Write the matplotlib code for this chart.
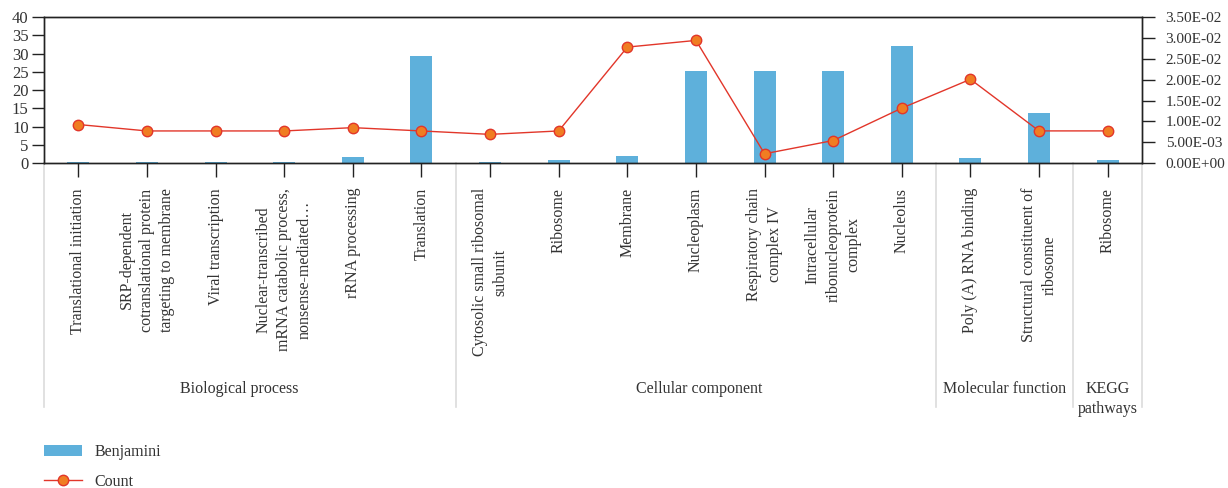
import matplotlib
matplotlib.use("Agg")
import matplotlib.pyplot as plt
from matplotlib.ticker import FuncFormatter, MultipleLocator
from matplotlib.lines import Line2D
from matplotlib.patches import Patch
import matplotlib.transforms as mtransforms

plt.rcParams['font.family'] = ['Liberation Serif', 'DejaVu Serif']

categories = [
    "Translational initiation",
    "SRP-dependent\ncotranslational protein\ntargeting to membrane",
    "Viral transcription",
    "Nuclear-transcribed\nmRNA catabolic process,\nnonsense-mediated…",
    "rRNA processing",
    "Translation",
    "Cytosolic small ribosomal\nsubunit",
    "Ribosome",
    "Membrane",
    "Nucleoplasm",
    "Respiratory chain\ncomplex IV",
    "Intracellular\nribonucleoprotein\ncomplex",
    "Nucleolus",
    "Poly (A) RNA binding",
    "Structural constituent of\nribosome",
    "Ribosome",
]
groups = ["Biological process", "Cellular component", "Molecular function", "KEGG\npathways"]
group_sizes = [6, 7, 2, 1]

benjamini = [0.3, 0.3, 0.3, 0.3, 1.8, 29.4, 0.3, 0.9, 2.1, 25.2, 25.2, 25.2, 32.2, 1.5, 13.7, 0.9]
count = [0.00928, 0.00774, 0.00774, 0.00774, 0.00853, 0.00774, 0.00692, 0.00774,
         0.0278, 0.0294, 0.00228, 0.00545, 0.0132, 0.0201, 0.00775, 0.00775]

bar_color = "#5eb0db"
line_color = "#e2362a"
marker_face = "#f07d22"
text_color = "#333333"

fig = plt.figure(figsize=(12.28, 4.88), dpi=100)
ax = fig.add_axes([44/1228, 1-163.3/488, (1142-44)/1228, (163.3-17)/488])
ax2 = ax.twinx()

x = list(range(len(categories)))
ax.bar(x, benjamini, width=0.32, color=bar_color, zorder=1)
ax2.plot(x, count, color=line_color, lw=1.0, marker='o', markersize=7.5,
         markerfacecolor=marker_face, markeredgecolor=line_color, markeredgewidth=1.0, zorder=3)
ax.set_zorder(ax2.get_zorder() - 1)
ax.patch.set_visible(False)

ax.set_xlim(-0.5, len(categories) - 0.5)
ax.set_ylim(0, 40)
ax2.set_ylim(0, 0.035)
ax.yaxis.set_major_locator(MultipleLocator(5))
ax2.yaxis.set_major_locator(MultipleLocator(0.005))

def sci(v, pos):
    return "%.2E" % v
ax2.yaxis.set_major_formatter(FuncFormatter(sci))

for a in (ax, ax2):
    for sp in a.spines.values():
        sp.set_color("#222222")
        sp.set_linewidth(1.0)
ax.tick_params(axis='y', direction='out', length=9, width=1.0, labelsize=12, pad=2, colors="#222222")
ax2.tick_params(axis='y', direction='out', length=9, width=1.0, labelsize=11, pad=8, colors="#222222")
ax.set_xticks(x)
ax.set_xticklabels([])
ax.tick_params(axis='x', direction='out', length=10, width=1.0, colors="#222222")
for lab in ax.get_yticklabels() + ax2.get_yticklabels():
    lab.set_color(text_color)

# category labels
trans = mtransforms.blended_transform_factory(ax.transData, fig.transFigure)
for i, c in enumerate(categories):
    ax.text(i, 1 - 188/488, c, transform=trans, rotation=90, ha='center', va='top',
            multialignment='center', fontsize=11.5, color=text_color, clip_on=False,
            linespacing=1.38)

# group separators and labels
bounds = [-0.5]
for s in group_sizes:
    bounds.append(bounds[-1] + s)
for b in bounds:
    ax.add_artist(Line2D([b, b], [1 - 163.3/488, 1 - 407/488], transform=trans,
                         color="#dcdcdc", lw=1.2, clip_on=False, zorder=0))
group_x = [2.35, 9.05, 13.5, 15.0]
for gx, g in zip(group_x, groups):
    ax.text(gx, 1 - 381/488, g, transform=trans, ha='center', va='top',
            multialignment='center', fontsize=11.5, color=text_color, clip_on=False,
            linespacing=1.35)

handles = [Patch(facecolor=bar_color, edgecolor='none', label="Benjamini"),
           Line2D([], [], color=line_color, lw=1.0, marker='o', markersize=7.5,
                  markerfacecolor=marker_face, markeredgecolor=line_color, label="Count")]
fig.legend(handles=handles, loc='upper left', bbox_to_anchor=(44/1228, 1 - 444/488),
           frameon=False, borderpad=0, borderaxespad=0, handlelength=2.4,
           handletextpad=0.75, labelspacing=0.85, prop={'size': 11.5},
           labelcolor=text_color)

fig.savefig("out.png", dpi=100)
